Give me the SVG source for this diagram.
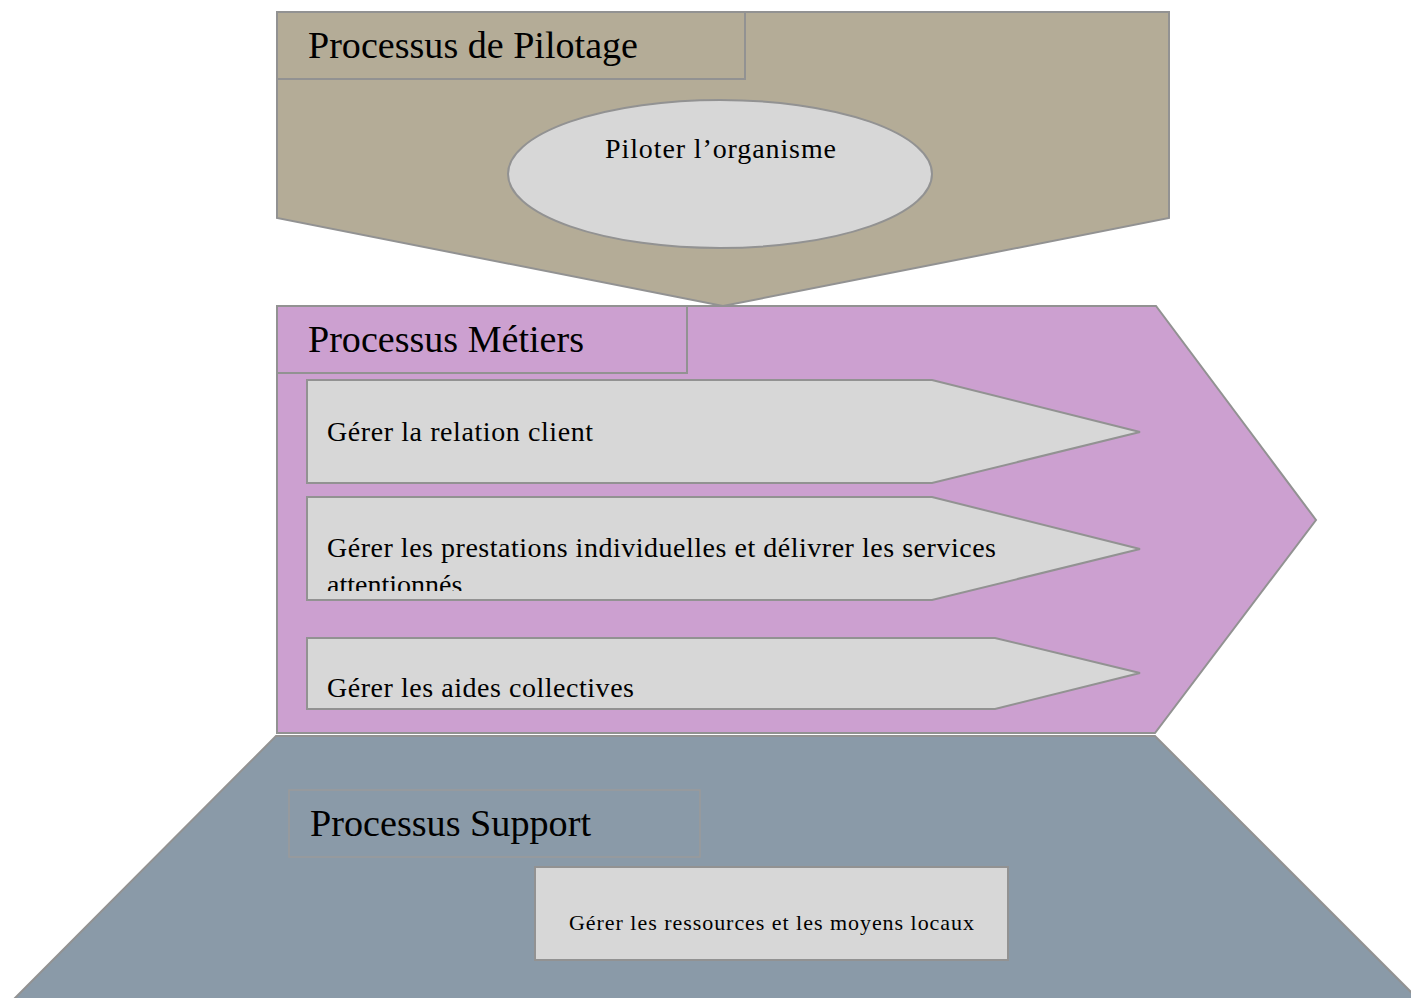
<svg xmlns="http://www.w3.org/2000/svg" width="1411" height="998" viewBox="0 0 1411 998">
<style>
.sh{stroke:#929292;stroke-width:2}
.lbl{fill:none;stroke:#929292;stroke-width:2}
.t{font-family:"Liberation Serif","Times New Roman",serif;fill:#000}
.big{font-size:38px}
.med{font-size:28px}
.sm{font-size:22px}
</style>
<defs>
<clipPath id="clip2"><rect x="307" y="497" width="700" height="94"/></clipPath>
</defs>
<rect width="1411" height="998" fill="#ffffff"/>
<g id="pilotage">
<polygon class="sh" fill="#B4AC97" points="277,12 1169,12 1169,218 723,306 277,218"/>
<rect class="lbl" x="277" y="12" width="468" height="67"/>
<text class="t big" x="308" y="58" textLength="330" lengthAdjust="spacingAndGlyphs">Processus de Pilotage</text>
</g>
<g id="piloter">
<ellipse class="sh" fill="#D7D7D7" cx="720" cy="174" rx="212" ry="74"/>
<text class="t med" x="605" y="158" textLength="231">Piloter l’organisme</text>
</g>
<g id="metiers">
<polygon class="sh" fill="#CCA0D0" points="277,306 1156,306 1316,520 1155,733 277,733"/>
<rect class="lbl" x="277" y="306" width="410" height="67"/>
<text class="t big" x="308" y="352" textLength="276" lengthAdjust="spacingAndGlyphs">Processus Métiers</text>
</g>
<g id="relation">
<polygon class="sh" fill="#D7D7D7" points="307,380 932,380 1140,432 932,483 307,483"/>
<text class="t med" x="327" y="441" textLength="266">Gérer la relation client</text>
</g>
<g id="prestations">
<polygon class="sh" fill="#D7D7D7" points="307,497 932,497 1140,549 932,600 307,600"/>
<g clip-path="url(#clip2)">
<text class="t med" x="327" y="557" textLength="669">Gérer les prestations individuelles et délivrer les services</text>
<text class="t med" x="327" y="594">attentionnés</text>
</g>
</g>
<g id="aides">
<polygon class="sh" fill="#D7D7D7" points="307,638 995,638 1140,673 995,709 307,709"/>
<text class="t med" x="327" y="697" textLength="307">Gérer les aides collectives</text>
</g>
<g id="support">
<polygon class="sh" fill="#8A9AA8" points="276,736 1155,736 1418,999 14,999"/>
<rect fill="none" stroke="#9A9A9A" stroke-width="1.5" x="289" y="790" width="411" height="67"/>
<text class="t big" x="310" y="836" textLength="281" lengthAdjust="spacingAndGlyphs">Processus Support</text>
</g>
<g id="ressources">
<rect class="sh" fill="#D7D7D7" x="535" y="867" width="473" height="93"/>
<text class="t sm" x="569" y="930" textLength="405">Gérer les ressources et les moyens locaux</text>
</g>
<g id="connectors"></g>
</svg>
